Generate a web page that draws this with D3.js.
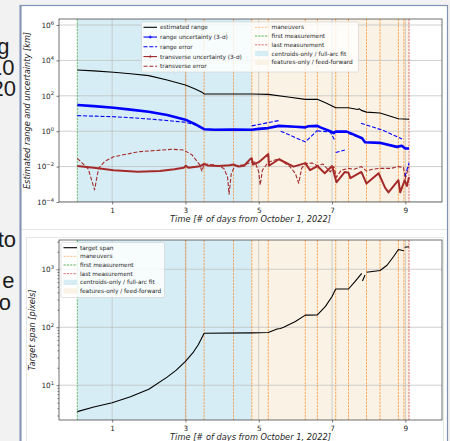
<!DOCTYPE html>
<html>
<head>
<meta charset="utf-8">
<script src="https://cdn.jsdelivr.net/npm/d3@7"></script>
<style>
html, body { margin: 0; padding: 0; background: #f2f2f2; }
svg { display: block; }
text { font-family: "DejaVu Sans", sans-serif; }
</style>
</head>
<body>
<svg id="fig" width="450" height="441"></svg>
<script>
// ---- data (days from Oct 1, 2022) ----
const xTicks = [1, 3, 5, 7, 9];
const rangeYTicks = [1e-4, 1e-2, 1e0, 1e2, 1e4, 1e6];
const spanYTicks = [1e1, 1e2, 1e3];
const maneuvers = [3.01, 3.51, 4.31, 4.81, 5.26, 6.27, 6.60, 7.10, 7.45, 7.94, 8.31, 8.81, 8.96];
const firstMeasurement = 0.05;
const lastMeasurement = 9.10;
const centroidsSpan = [0.05, 4.81];
const featuresSpan = [4.81, 9.10];

// [day, km]
const estRange = [[0.05, 2900], [0.5, 2550], [1.04, 2140], [1.5, 1750], [2.0, 1380], [2.5, 780], [3.0, 410],
	[3.25, 250], [3.45, 160], [3.51, 126], [4.81, 126], [5.26, 120], [5.8, 85], [6.27, 63], [6.60, 63],
	[6.85, 38], [7.10, 21], [7.45, 21], [7.70, 17], [7.74, 18.5], [7.80, 15], [7.94, 12], [8.31, 10.7],
	[8.81, 5.1], [9.10, 4.7]];
const rangeSigma = [[0.05, 30], [0.5, 26], [1.04, 21], [1.5, 16.5], [2.0, 12.6], [2.5, 8.3], [3.0, 4.5],
	[3.25, 2.6], [3.51, 1.3], [3.8, 1.2], [4.3, 1.25], [4.81, 1.2], [5.0, 1.35], [5.26, 1.5], [5.55, 2.0],
	[6.0, 1.8], [6.27, 1.65], [6.35, 1.9], [6.60, 2.0], [6.68, 1.65], [6.95, 1.0], [7.05, 0.78], [7.10, 0.95],
	[7.40, 0.95], [7.50, 0.78], [7.82, 0.4], [7.90, 0.24], [8.30, 0.22], [8.77, 0.13], [8.90, 0.15],
	[9.0, 0.105], [9.10, 0.105]];
const rangeError = [
	[[0.05, 7.6], [0.5, 7.1], [1.04, 6.6], [1.5, 5.8], [2.0, 4.9], [2.5, 4.0], [3.0, 3.2], [3.3, 2.2], [3.51, 1.25], [4.0, 1.15], [4.81, 1.15]],
	[[4.81, 2.0], [5.55, 4.0]],
	[[5.60, 1.0], [6.27, 0.25], [6.60, 1.1]],
	[[6.60, 1.05], [6.95, 0.9], [7.08, 0.3]],
	[[7.10, 0.062], [7.35, 0.087]],
	[[7.45, 0.75], [7.80, 0.4]],
	[[7.79, 2.8], [8.4, 1.1], [8.91, 0.36]],
	[[8.99, 0.0028], [9.10, 0.016]]
];
const transSigma = [[0.05, 0.0107], [0.5, 0.0085], [1.04, 0.0062], [1.7, 0.0051], [2.3, 0.0056], [2.7, 0.0071],
	[2.95, 0.0087], [3.01, 0.011], [3.08, 0.0087], [3.4, 0.0105], [3.51, 0.0141], [3.6, 0.0117], [3.9, 0.0107],
	[4.2, 0.012], [4.31, 0.0132], [4.45, 0.010], [4.6, 0.0112], [4.78, 0.028], [4.81, 0.0295], [4.84, 0.0132],
	[5.0, 0.0178], [5.26, 0.051], [5.28, 0.0112], [5.55, 0.026], [5.95, 0.010], [6.27, 0.0158], [6.4, 0.0063],
	[6.60, 0.0107], [6.8, 0.0042], [7.0, 0.0107], [7.12, 0.0013], [7.35, 0.005], [7.45, 0.0045], [7.5, 0.0022],
	[7.8, 0.005], [7.94, 0.0011], [8.27, 0.0042], [8.45, 0.00063], [8.54, 0.00035], [8.81, 0.0017],
	[8.86, 0.00035], [8.98, 0.0017], [9.04, 0.0008], [9.10, 0.0025]];
const transError = [[0.05, 0.0295], [0.35, 0.0072], [0.52, 0.00048], [0.63, 0.0079], [0.8, 0.02], [1.04, 0.036],
	[1.72, 0.069], [2.63, 0.095], [2.95, 0.087], [3.18, 0.046], [3.38, 0.0135], [3.45, 0.0056], [3.51, 0.0141],
	[3.8, 0.0126], [4.05, 0.0079], [4.15, 0.0025], [4.19, 0.00028], [4.25, 0.004], [4.35, 0.0112], [4.6, 0.0126],
	[4.81, 0.0178], [4.9, 0.0178], [5.0, 0.005], [5.04, 0.00091], [5.1, 0.0063], [5.26, 0.0178], [5.55, 0.028],
	[5.85, 0.010], [6.0, 0.004], [6.09, 0.00115], [6.17, 0.0079], [6.27, 0.015], [6.45, 0.0158], [6.60, 0.0112],
	[6.75, 0.0141], [6.95, 0.005], [7.05, 0.010], [7.12, 0.0025], [7.25, 0.0063], [7.45, 0.0079], [7.6, 0.0071],
	[7.8, 0.010], [7.94, 0.0056], [8.1, 0.0071], [8.31, 0.0079], [8.6, 0.0079], [8.81, 0.010], [8.95, 0.0089],
	[9.0, 0.002], [9.05, 0.005], [9.10, 0.010]];

// [day, pixels]
const targetSpan = [
	[[0.05, 3.5], [0.5, 4.2], [1.0, 5.0], [1.5, 6.3], [2.0, 8.5], [2.5, 13.8], [2.75, 18.2], [3.0, 25.7],
	 [3.2, 36], [3.35, 50], [3.51, 79], [4.81, 80], [5.26, 81], [5.5, 93], [5.59, 95], [5.68, 100], [6.0, 126],
	 [6.27, 162], [6.60, 163], [6.82, 229], [7.0, 339], [7.10, 457], [7.45, 457], [7.63, 617], [7.81, 850]],
	[[7.83, 630], [7.90, 795]],
	[[7.94, 890], [8.31, 955], [8.50, 1175], [8.68, 1660], [8.81, 2190], [8.96, 2090]],
	[[8.98, 2400], [9.10, 2450]]
];

!(function(){
	"use strict";

	const svg = d3.select('#fig'),
		blueFill = '#d7edf5',
		beigeFill = '#faf3e5',
		orange = '#ff7f0e',
		axisInk = '#262626';

	let fig = {
		xDomain: [-0.45, 10.0],
		left: 59,
		right: 442,
		drawSlide: () => {
			svg.append('rect').attr('width', 450).attr('height', 441).attr('fill', '#f2f2f2');
			// clipped words of the slide behind the panel
			[['g', 9.5, 54], ['10', 14.5, 75], ['20', 16, 96], ['to', 16, 247], ['e', 14.5, 288], ['o', 11, 310]]
				.forEach(t => {
					svg.append('text').attr('x', t[1]).attr('y', t[2]).attr('text-anchor', 'end')
						.style('font-family', '"Liberation Sans", Arial, sans-serif')
						.attr('font-size', 22).attr('fill', '#1c1c1c').text(t[0]);
				});
			svg.append('rect').attr('x', 20.5).attr('y', 5.5).attr('width', 427).attr('height', 440)
				.attr('fill', '#fff').attr('stroke', '#8391b6').attr('stroke-width', 1.2);
			svg.append('line').attr('x1', 20.5).attr('x2', 20.5).attr('y1', 5).attr('y2', 441)
				.attr('stroke', '#8391b6').attr('stroke-width', 2);
			svg.append('line').attr('x1', 22).attr('x2', 447).attr('y1', 229.5).attr('y2', 229.5)
				.attr('stroke', '#e4e4e4').attr('stroke-width', 1);
			svg.append('rect').attr('x', 26.5).attr('y', 237.5).attr('width', 417).attr('height', 220)
				.attr('fill', 'none').attr('stroke', '#e6e6e6').attr('stroke-width', 1);
		},
		supTicks: (sel) => {					// 10^n labels
			sel.selectAll('.tick text').each(function (d) {
				let t = d3.select(this),
					exp = Math.round(Math.log10(d));
				t.text('10');
				t.append('tspan').attr('dy', -3.2).attr('font-size', 5.2)
					.text(exp < 0 ? '\u2212' + (-exp) : String(exp));
			});
		},
		legend: (g, box, cols) => {
			g.append('rect').attr('x', box.x).attr('y', box.y).attr('width', box.w).attr('height', box.h)
				.attr('rx', 1.5).attr('fill', '#fff').attr('fill-opacity', 0.8)
				.attr('stroke', '#d0d0d0').attr('stroke-width', 0.6);
			cols.forEach(col => {
				col.items.forEach((it, i) => {
					let cy = col.y0 + i * col.step,
						x0 = col.x0, x1 = col.x0 + 13.5;
					if (it.patch) {
						g.append('rect').attr('x', x0).attr('y', cy - 2.6).attr('width', x1 - x0).attr('height', 5.2)
							.attr('fill', it.patch);
					} else {
						g.append('line').attr('x1', x0).attr('x2', x1).attr('y1', cy).attr('y2', cy)
							.attr('stroke', it.color).attr('stroke-width', it.width)
							.attr('stroke-dasharray', it.dash || null).attr('opacity', it.opacity || 1);
						if (it.marker) {
							let mx = (x0 + x1) / 2;
							g.append('path').attr('d', `M${mx - 1.6},${cy}H${mx + 1.6}M${mx},${cy - 1.6}V${cy + 1.6}`)
								.attr('stroke', it.color).attr('stroke-width', 0.8);
						}
					}
					g.append('text').attr('x', x1 + 3).attr('y', cy).attr('dy', '0.35em')
						.attr('font-size', 5.8).attr('fill', axisInk).text(it.label);
				});
			});
		},
		panel: (conf) => {
			let x = d3.scaleLinear().domain(fig.xDomain).range([fig.left, fig.right]),
				y = d3.scaleLog().domain(conf.yDomain).range([conf.bottom, conf.top]),
				g = svg.append('g'),
				h = conf.bottom - conf.top,
				line = d3.line().x(d => x(d[0])).y(d => y(d[1]));

			svg.append('clipPath').attr('id', conf.id + '-clip').append('rect')
				.attr('x', fig.left).attr('y', conf.top).attr('width', fig.right - fig.left).attr('height', h);
			let plot = g.append('g').attr('clip-path', `url(#${conf.id}-clip)`);

			plot.append('rect').attr('x', fig.left).attr('y', conf.top).attr('width', fig.right - fig.left)
				.attr('height', h).attr('fill', '#fff');
			plot.append('rect').attr('x', x(centroidsSpan[0])).attr('y', conf.top)
				.attr('width', x(centroidsSpan[1]) - x(centroidsSpan[0])).attr('height', h).attr('fill', blueFill);
			plot.append('rect').attr('x', x(featuresSpan[0])).attr('y', conf.top)
				.attr('width', x(featuresSpan[1]) - x(featuresSpan[0])).attr('height', h).attr('fill', beigeFill);

			// grid
			xTicks.forEach(t => {
				plot.append('line').attr('x1', x(t)).attr('x2', x(t)).attr('y1', conf.top).attr('y2', conf.bottom)
					.attr('stroke', '#bcbcbc').attr('stroke-width', 0.7);
			});
			conf.yTicks.forEach(t => {
				plot.append('line').attr('x1', fig.left).attr('x2', fig.right).attr('y1', y(t)).attr('y2', y(t))
					.attr('stroke', '#bcbcbc').attr('stroke-width', 0.7);
			});

			// events
			let vline = (d, color) => {
				plot.append('line').attr('x1', x(d)).attr('x2', x(d)).attr('y1', conf.top).attr('y2', conf.bottom)
					.attr('stroke', color).attr('stroke-width', 0.8).attr('stroke-dasharray', '2.2,1.1')
					.attr('opacity', 0.85);
			};
			maneuvers.forEach(d => vline(d, orange));
			vline(firstMeasurement, '#2ca02c');
			vline(lastMeasurement, '#d62728');

			// series
			conf.series.forEach(s => {
				s.segments.forEach(seg => {
					plot.append('path').datum(seg).attr('d', line).attr('fill', 'none')
						.attr('stroke', s.color).attr('stroke-width', s.width)
						.attr('stroke-dasharray', s.dash || null).attr('stroke-linejoin', 'round');
				});
			});

			// axes
			let xAxis = g.append('g').attr('transform', `translate(0,${conf.bottom})`)
				.call(d3.axisBottom(x).tickValues(xTicks).tickSize(2.5).tickPadding(3).tickFormat(d3.format('d')));
			let yAxis = g.append('g').attr('transform', `translate(${fig.left},0)`)
				.call(d3.axisLeft(y).tickValues(conf.yTicks).tickSize(2.5).tickPadding(2.5));
			fig.supTicks(yAxis);
			if (conf.minorTicks) {
				g.append('g').attr('transform', `translate(${fig.left},0)`)
					.call(d3.axisLeft(y).tickValues(conf.minorTicks).tickSize(1.5).tickFormat(''))
					.select('.domain').remove();
			}
			[xAxis, yAxis].forEach(a => {
				a.select('.domain').remove();
				a.selectAll('text').attr('font-size', 7.3).attr('fill', axisInk).style('font-family', '"DejaVu Sans", sans-serif');
			});
			g.selectAll('.tick line').attr('stroke', axisInk).attr('stroke-width', 0.6);

			g.append('rect').attr('x', fig.left).attr('y', conf.top).attr('width', fig.right - fig.left)
				.attr('height', h).attr('fill', 'none').attr('stroke', '#333').attr('stroke-width', 0.7);

			g.append('text').attr('x', (fig.left + fig.right) / 2).attr('y', conf.xLabelY).attr('text-anchor', 'middle')
				.attr('font-size', 8.25).attr('font-style', 'italic').attr('fill', axisInk)
				.text('Time [# of days from October 1, 2022]');
			g.append('text').attr('transform', `translate(${conf.yLabelX},${(conf.top + conf.bottom) / 2}) rotate(-90)`)
				.attr('text-anchor', 'middle').attr('font-size', 8.2).attr('font-style', 'italic').attr('fill', axisInk)
				.text(conf.yLabel);

			fig.legend(g, conf.legendBox, conf.legendCols);
		}
	};

	const eventItems = [
		{label: 'maneuvers', color: orange, width: 0.8, dash: '2.2,1.1', opacity: 0.6},
		{label: 'first measurement', color: '#2ca02c', width: 0.8, dash: '2.2,1.1'},
		{label: 'last measurement', color: '#d62728', width: 0.8, dash: '2.2,1.1', opacity: 0.8},
		{label: 'centroids-only / full-arc fit', patch: blueFill},
		{label: 'features-only / feed-forward', patch: beigeFill}
	];

	fig.drawSlide();

	fig.panel({
		id: 'range',
		top: 19, bottom: 202,
		yDomain: [1e-4, Math.pow(10, 6.34)],
		yTicks: rangeYTicks,
		xLabelY: 221.5,
		yLabelX: 30,
		yLabel: 'Estimated range and uncertainty [km]',
		series: [
			{segments: [transError], color: '#a52a2a', width: 1.1, dash: '4,1.8'},
			{segments: [transSigma], color: '#a52a2a', width: 2.0},
			{segments: rangeError, color: '#0000ff', width: 1.1, dash: '4,1.8'},
			{segments: [rangeSigma], color: '#0000ff', width: 2.6},
			{segments: [estRange], color: '#000', width: 1.1}
		],
		legendBox: {x: 141.5, y: 22, w: 217, h: 50},
		legendCols: [
			{x0: 143.5, y0: 27.3, step: 9.75, items: [
				{label: 'estimated range', color: '#000', width: 1.1},
				{label: 'range uncertainty (3-\u03c3)', color: '#0000ff', width: 1.1, marker: true},
				{label: 'range error', color: '#0000ff', width: 1.1, dash: '4,1.8'},
				{label: 'transverse uncertainty (3-\u03c3)', color: '#a52a2a', width: 1.1, marker: true},
				{label: 'transverse error', color: '#a52a2a', width: 1.1, dash: '4,1.8'}
			]},
			{x0: 255, y0: 27.3, step: 8.75, items: eventItems}
		]
	});

	let minor = [];
	[1, 10, 100, 1000].forEach(dec => d3.range(2, 10).forEach(m => {
		let v = m * dec;
		if (v > 2.5 && v < 3200) minor.push(v);
	}));

	fig.panel({
		id: 'span',
		top: 240, bottom: 420,
		yDomain: [Math.pow(10, 0.40), Math.pow(10, 3.505)],
		yTicks: spanYTicks,
		minorTicks: minor,
		xLabelY: 439.5,
		yLabelX: 35,
		yLabel: 'Target span [pixels]',
		series: targetSpan.length ? [{segments: targetSpan, color: '#000', width: 1.1}] : [],
		legendBox: {x: 61, y: 242.5, w: 103.5, h: 55},
		legendCols: [
			{x0: 63.5, y0: 247.7, step: 8.65, items: [{label: 'target span', color: '#000', width: 1.1}].concat(eventItems)}
		]
	});
}());
</script>
</body>
</html>
